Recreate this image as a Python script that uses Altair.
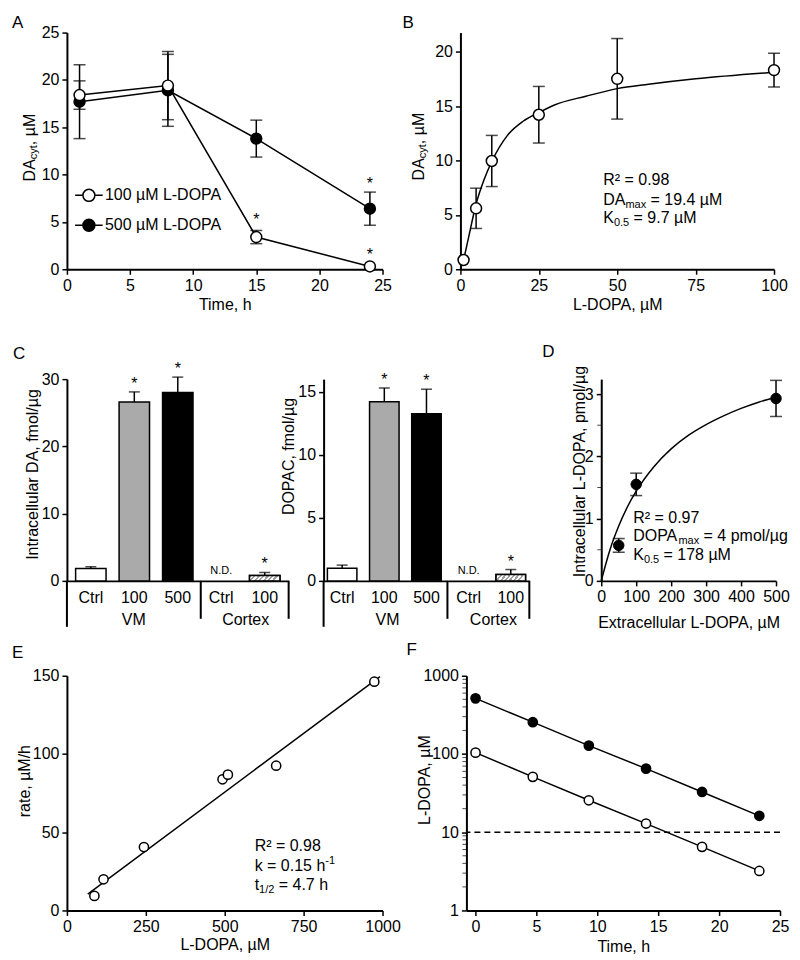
import altair as alt
import pandas as pd

FONT = "Liberation Sans"

# ---------------- data ----------------
# A
a_time = [1, 8, 15, 24]
a_100 = [18.4, 19.4, 3.4, 0.3]
a_100_err = [1.5, 3.6, 0.7, 0.0]
a_500 = [17.7, 18.9, 13.8, 6.4]
a_500_err = [3.9, 3.8, 1.95, 1.75]
a_series = ["100 µM L-DOPA", "500 µM L-DOPA"]
a_star_time = [15, 24, 24]
a_star_val = [5.6, 1.9, 9.4]

# B
b_conc = [1, 5, 10, 25, 50, 100]
b_da = [0.85, 5.6, 9.95, 14.2, 17.5, 18.3]
b_err = [0.0, 1.85, 2.35, 2.6, 3.7, 1.55]
b_fit_conc = [0, 1, 2.5, 5, 7.5, 10, 15, 20, 25, 30, 40, 50, 60, 75, 100]
b_fit_da = [0, 0.9, 2.8, 6.0, 8.2, 9.9, 12.3, 13.6, 14.4, 15.1, 15.9, 16.6, 17.0, 17.5, 18.1]

# C
c_groups = ["VM", "VM", "VM", "Cortex", "Cortex"]
c_doses = ["Ctrl", "100", "500", "Ctrl", "100"]
c_da = [1.85, 26.6, 28.0, 0.0, 0.8]
c_da_err = [0.25, 1.5, 2.3, 0.0, 0.45]
c_dopac = [1.0, 14.2, 13.25, 0.0, 0.5]
c_dopac_err = [0.25, 1.1, 1.95, 0.0, 0.4]
c_signif = [False, True, True, False, True]
c_detected = [True, True, True, False, True]

# D
d_conc = [50, 100, 500]
d_dopa = [0.57, 1.55, 2.93]
d_err = [0.11, 0.18, 0.29]
d_fit_conc = [0, 25, 50, 75, 100, 150, 200, 250, 300, 350, 400, 450, 500]
d_fit_dopa = [0, 0.5, 0.88, 1.19, 1.44, 1.83, 2.12, 2.34, 2.51, 2.65, 2.77, 2.87, 2.95]

# E
e_conc = [87, 116, 244, 493, 510, 663, 974]
e_rate = [9.3, 19.9, 40.5, 83.8, 86.8, 92.5, 146.2]
e_fit_conc = [66, 992]
e_fit_rate = [10.5, 149.5]

# F
f_time = [0, 4.7, 9.3, 14.0, 18.6, 23.3]
f_500 = [514, 255, 128, 65, 32.7, 16.2]
f_100 = [104, 51, 25.6, 12.9, 6.5, 3.2]
f_threshold = [10]
f_minor = [m * d for d in (1, 10, 100) for m in range(2, 10)]


# ---------------- helpers ----------------
def label(text, x, y, size=16, dy=0, angle=0, align="left"):
    kw = dict(align=align, baseline="middle", fontSize=size, font=FONT, color="black")
    if dy:
        kw["dy"] = dy
    if angle:
        kw["angle"] = angle
    return alt.Chart(pd.DataFrame({"t": [text]})).mark_text(**kw).encode(
        x=alt.value(x), y=alt.value(y), text="t:N")


def letter(ch, x, y):
    return label(ch, x, y, size=17)


def qx(field, domain, values, title, w, ty=35, fmt=None):
    ax = dict(values=values, title=title, titleX=w / 2, titleY=ty, titleBaseline="middle")
    if fmt:
        ax["format"] = fmt
    return alt.X(field, type="quantitative", scale=alt.Scale(domain=domain, nice=False),
                 axis=alt.Axis(**ax))


def qy(field, domain, values, title=None, tx=0, ty=0, log=False, fmt=None):
    sc = dict(domain=domain, nice=False)
    if log:
        sc["type"] = "log"
    ax = dict(values=values, title=title)
    if title:
        ax.update(titleX=tx, titleY=ty, titleAngle=270, titleBaseline="middle", titleAlign="center")
    if fmt:
        ax["format"] = fmt
    return alt.Y(field, type="quantitative", scale=alt.Scale(**sc), axis=alt.Axis(**ax))


TICK = dict(orient="horizontal", thickness=1.5, color="black")

# ---------------- panel A ----------------
W_A, H_A = 316, 237
dfA = pd.DataFrame({
    "time": a_time + a_time,
    "val": a_500 + a_100,
    "err": a_500_err + a_100_err,
    "series": [a_series[1]] * 4 + [a_series[0]] * 4,
})
dfA["lo"] = dfA["val"] - dfA["err"]
dfA["hi"] = dfA["val"] + dfA["err"]
xA = qx("time", [0, 25], [0, 5, 10, 15, 20, 25], "Time, h", W_A)
yA = lambda f: qy(f, [0, 25], [0, 5, 10, 15, 20, 25])
errA = alt.Chart(dfA).transform_filter("datum.err > 0")
LEG_PATH = "M-2.3,0H-1M1,0H2.3M1,0A1,1,0,1,1,-1,0A1,1,0,1,1,1,0Z"
panelA = alt.layer(
    errA.mark_rule(color="black", strokeWidth=1.5).encode(x=xA, y=yA("lo"), y2="hi:Q"),
    errA.mark_tick(size=12, **TICK).encode(x=xA, y=yA("hi")),
    errA.mark_tick(size=12, **TICK).encode(x=xA, y=yA("lo")),
    alt.Chart(dfA).mark_line(color="black", strokeWidth=1.5).encode(x=xA, y=yA("val"), detail="series:N"),
    alt.Chart(dfA).mark_point(shape="circle", filled=True, size=120, stroke="black",
                              strokeWidth=1.5, opacity=1).encode(
        x=xA, y=yA("val"),
        fill=alt.Fill("series:N", scale=alt.Scale(domain=a_series, range=["white", "black"]),
                      legend=alt.Legend(title=None, orient="none", legendX=14, legendY=155,
                                        symbolType=LEG_PATH, symbolSize=144,
                                        symbolStrokeColor="black", symbolStrokeWidth=1.5,
                                        labelOffset=8, rowPadding=12, padding=0,
                                        labelFontSize=16, labelFont=FONT))),
    alt.Chart(pd.DataFrame({"time": a_star_time, "val": a_star_val})).mark_text(
        text="*", fontSize=16, baseline="alphabetic", dy=9, font=FONT, color="black").encode(
        x=xA, y=yA("val")),
    letter("A", -55, -10),
    label("DA", -37, 149, angle=270),
    label("cyt", -33, 126.8, size=11, angle=270),
    label(", µM", -37, 112.7, angle=270),
).properties(width=W_A, height=H_A)

# ---------------- panel B ----------------
W_B, H_B = 314, 237
dfB = pd.DataFrame({"conc": b_conc, "val": b_da, "err": b_err})
dfB["lo"] = dfB["val"] - dfB["err"]
dfB["hi"] = dfB["val"] + dfB["err"]
dfBfit = pd.DataFrame({"conc": b_fit_conc, "val": b_fit_da})
xB = qx("conc", [0, 100], [0, 25, 50, 75, 100], "L-DOPA, µM", W_B)
yB = lambda f: qy(f, [0, 21.75], [0, 5, 10, 15, 20])
errB = alt.Chart(dfB).transform_filter("datum.err > 0")
panelB = alt.layer(
    errB.mark_rule(color="black", strokeWidth=1.5).encode(x=xB, y=yB("lo"), y2="hi:Q"),
    errB.mark_tick(size=12, **TICK).encode(x=xB, y=yB("hi")),
    errB.mark_tick(size=12, **TICK).encode(x=xB, y=yB("lo")),
    alt.Chart(dfBfit).mark_line(color="black", strokeWidth=1.5, interpolate="monotone").encode(
        x=xB, y=yB("val")),
    alt.Chart(dfB).mark_point(shape="circle", filled=True, size=120, stroke="black",
                              strokeWidth=1.5, fill="white", opacity=1).encode(x=xB, y=yB("val")),
    letter("B", -58, -10),
    label("DA", -41, 148, angle=270),
    label("cyt", -37, 125.8, size=11, angle=270),
    label(", µM", -41, 111.7, angle=270),
    label("R² = 0.98", 143, 148),
    label("DA", 143, 168), label("max", 165.2, 168, size=11, dy=5), label("= 19.4 µM", 190.4, 168),
    label("K", 143, 186), label("0.5", 153.7, 186, size=11, dy=5), label("= 9.7 µM", 173.4, 186),
).properties(width=W_B, height=H_B)

# ---------------- panel C ----------------
H_C = 202
HATCH_STOPS = []
for i in range(7):
    a, b, c = i / 7, (i + 0.5) / 7, (i + 1) / 7
    HATCH_STOPS += [{"offset": a, "color": "#a0a0a0"}, {"offset": b, "color": "#a0a0a0"},
                    {"offset": b, "color": "white"}, {"offset": c, "color": "white"}]
HATCH = {"gradient": "linear", "x1": 0, "y1": 0, "x2": 1, "y2": 0.17, "stops": HATCH_STOPS}


def panel_c(values, errs, w, ymax, yticks, title, title_x, title_y, pad_outer,
            sep_x, vm_x, cortex_x, let=None):
    cats = [g + "|" + d for g, d in zip(c_groups, c_doses)]
    df = pd.DataFrame({"cat": cats, "val": values, "err": errs, "sig": c_signif, "det": c_detected})
    df["top"] = df["val"] + df["err"]
    xs = alt.X("cat:N", scale=alt.Scale(domain=cats, paddingInner=0.3, paddingOuter=pad_outer),
               axis=alt.Axis(labelExpr="split(datum.label, '|')[1]", ticks=False, labelPadding=9,
                             title=None, labelAngle=0))
    ys = lambda f: qy(f, [0, ymax], yticks, title=title, tx=title_x, ty=title_y)
    base = alt.Chart(df)
    layers = [
        base.transform_filter("datum.det").mark_bar(stroke="black", strokeWidth=1.5).encode(
            x=xs, y=ys("val"),
            fill=alt.Fill("cat:N", scale=alt.Scale(domain=cats,
                                                   range=["white", "#aaaaaa", "black", "white", "white"]),
                          legend=None)),
        base.transform_filter("datum.cat == 'Cortex|100'").mark_bar(
            stroke="black", strokeWidth=1.5, fill=HATCH).encode(x=xs, y=ys("val")),
        base.transform_filter("datum.err > 0").mark_rule(color="black", strokeWidth=1.5).encode(
            x=xs, y=ys("val"), y2="top:Q"),
        base.transform_filter("datum.err > 0").mark_tick(size=11, **TICK).encode(x=xs, y=ys("top")),
        base.transform_filter("datum.sig").mark_text(text="*", fontSize=16, baseline="alphabetic",
                                                     dy=-3, font=FONT, color="black").encode(
            x=xs, y=ys("top")),
        base.transform_filter("!datum.det").mark_text(text="N.D.", fontSize=11, baseline="middle",
                                                      dy=-10, font=FONT, color="black").encode(
            x=xs, y=ys("val")),
        alt.Chart(pd.DataFrame({"a": [0]})).mark_rule(color="black", strokeWidth=2).encode(
            x=alt.value(0), y=alt.value(H_C), y2=alt.value(H_C + 46)),
        alt.Chart(pd.DataFrame({"a": [0]})).mark_rule(color="black", strokeWidth=2).encode(
            x=alt.value(sep_x), y=alt.value(H_C), y2=alt.value(H_C + 38)),
        alt.Chart(pd.DataFrame({"a": [0]})).mark_rule(color="black", strokeWidth=2).encode(
            x=alt.value(w), y=alt.value(H_C), y2=alt.value(H_C + 38)),
        label("VM", vm_x, H_C + 39, align="center"),
        label("Cortex", cortex_x, H_C + 39, align="center"),
    ]
    if let:
        layers.append(letter(let, -54, -25))
    return alt.layer(*layers).properties(width=w, height=H_C)


panelC1 = panel_c(c_da, c_da_err, 222, 30, [0, 10, 20, 30], "Intracellular DA, fmol/µg",
                  -34, 95, 0.2, 134, 67, 179, let="C")
panelC2 = panel_c(c_dopac, c_dopac_err, 206, 16, [0, 5, 10, 15], "DOPAC, fmol/µg",
                  -35, 77, 0.09, 124, 64, 170)

# ---------------- panel D ----------------
W_D = 175
dfD = pd.DataFrame({"conc": d_conc, "val": d_dopa, "err": d_err})
dfD["lo"] = dfD["val"] - dfD["err"]
dfD["hi"] = dfD["val"] + dfD["err"]
dfDfit = pd.DataFrame({"conc": d_fit_conc, "val": d_fit_dopa})
xD = qx("conc", [0, 500], [0, 100, 200, 300, 400, 500], "Extracellular L-DOPA, µM", W_D, ty=42)
yD = lambda f: qy(f, [0, 3.24], [0, 1, 2, 3], title="Intracellular L-DOPA, pmol/µg", tx=-22, ty=92)
panelD = alt.layer(
    alt.Chart(pd.DataFrame({"m": [0.5, 1.5, 2.5]})).mark_tick(size=4, orient="horizontal",
                                                              thickness=1, color="black").encode(
        x=alt.value(-2), y=yD("m")),
    alt.Chart(dfD).mark_rule(color="black", strokeWidth=1.5).encode(x=xD, y=yD("lo"), y2="hi:Q"),
    alt.Chart(dfD).mark_tick(size=12, **TICK).encode(x=xD, y=yD("hi")),
    alt.Chart(dfD).mark_tick(size=12, **TICK).encode(x=xD, y=yD("lo")),
    alt.Chart(dfDfit).mark_line(color="black", strokeWidth=1.5, interpolate="monotone").encode(
        x=xD, y=yD("val")),
    alt.Chart(dfD).mark_point(shape="circle", filled=True, size=110, stroke="black",
                              strokeWidth=1, fill="black", opacity=1).encode(x=xD, y=yD("val")),
    letter("D", -59, -27),
    label("R² = 0.97", 32, 139),
    label("DOPA", 32, 157), label("max", 77.3, 157, size=11, dy=5), label("= 4 pmol/µg", 102.5, 157),
    label("K", 32, 176), label("0.5", 42.7, 176, size=11, dy=5), label("= 178 µM", 62.4, 176),
).properties(width=W_D, height=H_C)

# ---------------- panel E ----------------
W_E, H_E = 316, 235
dfE = pd.DataFrame({"conc": e_conc, "val": e_rate})
dfEfit = pd.DataFrame({"conc": e_fit_conc, "val": e_fit_rate})
xE = qx("conc", [0, 1000], [0, 250, 500, 750, 1000], "L-DOPA, µM", W_E, ty=34, fmt="d")
yE = lambda f: qy(f, [0, 150], [0, 50, 100, 150], title="rate, µM/h", tx=-42, ty=105)
panelE = alt.layer(
    alt.Chart(dfEfit).mark_line(color="black", strokeWidth=1.5).encode(x=xE, y=yE("val")),
    alt.Chart(dfE).mark_point(shape="circle", filled=True, size=85, stroke="black",
                              strokeWidth=1.5, fill="white", opacity=1).encode(x=xE, y=yE("val")),
    letter("E", -55, -23),
    label("R² = 0.98", 188, 170),
    label("k = 0.15 h", 188, 190), label("-1", 258.7, 190, size=11, dy=-5),
    label("t", 188, 210), label("1/2", 192.4, 210, size=11, dy=5), label("= 4.7 h", 212.1, 210),
).properties(width=W_E, height=H_E)

# ---------------- panel F ----------------
W_F = 314
dfF = pd.DataFrame({
    "time": f_time + f_time,
    "val": f_500 + f_100,
    "series": ["500"] * 6 + ["100"] * 6,
})
xF = qx("time", [-0.75, 25], [0, 5, 10, 15, 20, 25], "Time, h", W_F, ty=36)
yF = lambda f: qy(f, [1, 1000], [1, 10, 100, 1000], title="L-DOPA, µM", tx=-42, ty=104,
                  log=True, fmt="d")
panelF = alt.layer(
    alt.Chart(pd.DataFrame({"m": f_minor})).mark_tick(size=4, orient="horizontal", thickness=1,
                                                     color="black").encode(x=alt.value(-2), y=yF("m")),
    alt.Chart(pd.DataFrame({"val": f_threshold})).mark_rule(color="black", strokeWidth=1.5,
                                                             strokeDash=[6, 4]).encode(y=yF("val")),
    alt.Chart(dfF).mark_line(color="black", strokeWidth=1.5).encode(x=xF, y=yF("val"), detail="series:N"),
    alt.Chart(dfF).mark_point(shape="circle", filled=True, size=85, stroke="black", strokeWidth=1.5,
                              opacity=1).encode(
        x=xF, y=yF("val"),
        fill=alt.Fill("series:N", scale=alt.Scale(domain=["100", "500"], range=["white", "black"]),
                      legend=None)),
    letter("F", -60, -26),
).properties(width=W_F, height=H_E)

IND = dict(fill="independent")
row1 = alt.hconcat(panelA, panelB, spacing=78, bounds="flush").resolve_scale(**IND).resolve_legend(**IND)
rowC = alt.hconcat(panelC1, panelC2, spacing=35, bounds="flush").resolve_scale(**IND).resolve_legend(**IND)
row2 = alt.hconcat(rowC, panelD, spacing=12).resolve_scale(**IND).resolve_legend(**IND)
row3 = alt.hconcat(panelE, panelF, spacing=84, bounds="flush").resolve_scale(**IND).resolve_legend(**IND)

top = alt.vconcat(row1, row2, spacing=31).resolve_scale(**IND).resolve_legend(**IND)

chart = alt.vconcat(top, row3, spacing=10).resolve_scale(**IND).resolve_legend(**IND).properties(
    padding={"left": 4, "top": 5, "right": 2, "bottom": 2}
).configure_view(stroke=None).configure_axis(
    domainColor="black", domainWidth=2, tickColor="black", tickWidth=1.5, tickSize=5,
    labelFont=FONT, labelFontSize=16, labelColor="black", labelPadding=3, labelFlush=False,
    titleFont=FONT, titleFontSize=16, titleFontWeight="normal", titleColor="black", grid=False
).configure_text(font=FONT, color="black").configure_legend(
    labelFont=FONT, labelFontSize=16, labelColor="black")

chart.save("out.html", embed_options={"renderer": "svg", "actions": False})
